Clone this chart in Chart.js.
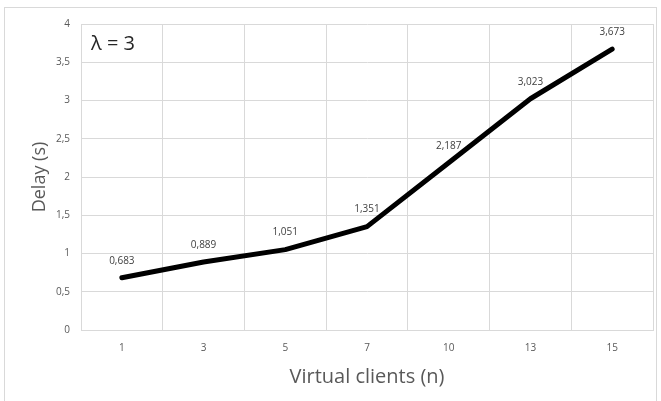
<!DOCTYPE html>
<html>
<head>
<meta charset="utf-8">
<script src="https://cdn.jsdelivr.net/npm/chart.js@4"></script>
<style>
  html, body { margin: 0; padding: 0; background: #fff; }
  #wrap { position: relative; width: 661px; height: 401px; }
  #frame { position: absolute; left: 4px; top: 7px; width: 653px; height: 400px; border: 1px solid #d9d9d9; box-sizing: border-box; }
  canvas { position: absolute; left: 0; top: 0; }
</style>
</head>
<body>
<div id="wrap">
  <div id="frame"></div>
  <canvas id="chart" width="661" height="401"></canvas>
</div>
<script>
var clients = ['1', '3', '5', '7', '10', '13', '15'];
var delays = [0.683, 0.889, 1.051, 1.351, 2.187, 3.023, 3.673];
var chartLabel = 'λ = 3';

var gray = '#595959';
var gridColor = '#d9d9d9';

function comma(v, digits) {
  return v.toFixed(digits).replace('.', ',');
}

var overlay = {
  id: 'overlay',
  afterDatasetsDraw: function (chart) {
    var ctx = chart.ctx;
    var meta = chart.getDatasetMeta(0);
    ctx.save();
    ctx.fillStyle = '#404040';
    ctx.font = '10px "Open Sans", sans-serif';
    ctx.textAlign = 'center';
    ctx.textBaseline = 'bottom';
    meta.data.forEach(function (pt, i) {
      ctx.fillText(comma(delays[i], 3), pt.x, pt.y - 12);
    });
    ctx.fillStyle = '#262626';
    ctx.font = '20px "Open Sans", sans-serif';
    ctx.textAlign = 'left';
    ctx.textBaseline = 'middle';
    ctx.fillText(chartLabel, chart.chartArea.left + 10, chart.chartArea.top + 20);
    ctx.restore();
  }
};

new Chart(document.getElementById('chart'), {
  type: 'line',
  data: {
    labels: clients,
    datasets: [{
      data: delays,
      borderColor: '#000',
      borderWidth: 5,
      borderCapStyle: 'round',
      borderJoinStyle: 'round',
      pointRadius: 0,
      tension: 0,
      fill: false
    }]
  },
  options: {
    responsive: false,
    animation: false,
    layout: { padding: { left: 29, right: 8, top: 24, bottom: 8 } },
    plugins: { legend: { display: false }, tooltip: { enabled: false } },
    scales: {
      x: {
        offset: true,
        grid: { offset: true, color: gridColor, drawTicks: false },
        border: { color: gridColor },
        ticks: { color: gray, padding: 12, font: { family: 'Open Sans', size: 10 } },
        title: { display: true, text: 'Virtual clients (n)', color: gray, padding: { top: 10 }, font: { family: 'Open Sans', size: 20 } },
        afterFit: function (s) { s.height = 63; }
      },
      y: {
        min: 0,
        max: 4,
        grid: { color: gridColor, drawTicks: false },
        border: { color: gridColor },
        ticks: {
          stepSize: 0.5,
          color: gray,
          padding: 11,
          font: { family: 'Open Sans', size: 10 },
          callback: function (v) { return String(v).replace('.', ','); }
        },
        title: { display: true, text: 'Delay (s)', color: gray, padding: 0, font: { family: 'Open Sans', size: 18 } },
        afterFit: function (s) { s.width = 52; }
      }
    }
  },
  plugins: [overlay]
});
</script>
</body>
</html>
